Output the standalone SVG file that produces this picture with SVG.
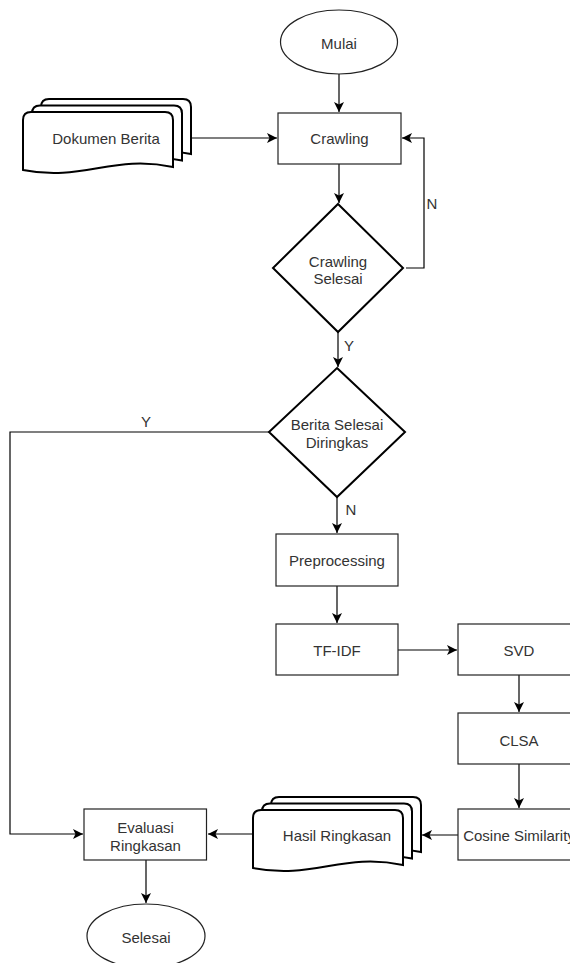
<svg xmlns="http://www.w3.org/2000/svg" width="570" height="963" viewBox="0 0 570 963">
<style>
text{font-family:"Liberation Sans",Arial,sans-serif;font-size:15px;fill:#333;text-anchor:middle;dominant-baseline:central}
.rect{fill:#fff;stroke:#222;stroke-width:1.2}
.ell{fill:#fff;stroke:#222;stroke-width:1.2}
.dia{fill:#fff;stroke:#000;stroke-width:2}
.page{fill:#fff;stroke:#000;stroke-width:2}
.edge{fill:none;stroke:#000;stroke-width:1.2}
</style>
<defs>
<marker id="arr" markerUnits="userSpaceOnUse" markerWidth="12" markerHeight="12" refX="10" refY="5.5" orient="auto">
<path d="M0,0.5 L10,5.5 L0,10.5 L2.5,5.5 Z" fill="#000"/>
</marker>
<path id="pg" d="M0,58 L0,8 Q0,0 8,0 L142,0 Q150,0 150,8 L150,55 C90,42 60,70 0,58 Z"/>
</defs>
<rect width="570" height="963" fill="#fff"/>
<g id="connectors">
<line class="edge" x1="339" y1="74" x2="339" y2="112" marker-end="url(#arr)"/>
<line class="edge" x1="191" y1="138" x2="277" y2="138" marker-end="url(#arr)"/>
<line class="edge" x1="339" y1="164" x2="339" y2="203" marker-end="url(#arr)"/>
<polyline class="edge" points="406,268 424,268 424,138 402,138" marker-end="url(#arr)"/>
<line class="edge" x1="338" y1="332" x2="338" y2="367" marker-end="url(#arr)"/>
<polyline class="edge" points="269,432 10,432 10,834 83,834" marker-end="url(#arr)"/>
<line class="edge" x1="337" y1="497" x2="337" y2="533" marker-end="url(#arr)"/>
<line class="edge" x1="337" y1="586" x2="337" y2="623" marker-end="url(#arr)"/>
<line class="edge" x1="398" y1="650" x2="457" y2="650" marker-end="url(#arr)"/>
<line class="edge" x1="519" y1="675" x2="519" y2="712" marker-end="url(#arr)"/>
<line class="edge" x1="519" y1="764" x2="519" y2="808" marker-end="url(#arr)"/>
<line class="edge" x1="458" y1="835" x2="422" y2="835" marker-end="url(#arr)"/>
<line class="edge" x1="253" y1="834" x2="208" y2="834" marker-end="url(#arr)"/>
<line class="edge" x1="146" y1="860" x2="146" y2="903" marker-end="url(#arr)"/>
<text x="432" y="203">N</text>
<text x="349" y="345">Y</text>
<text x="146" y="421">Y</text>
<text x="351" y="509">N</text>
</g>
<g id="mulai">
<ellipse class="ell" cx="339" cy="42" rx="58.5" ry="32"/>
<text x="339" y="43">Mulai</text>
</g>
<g id="dokumen-berita">
<use href="#pg" class="page" transform="translate(41,99)"/>
<use href="#pg" class="page" transform="translate(32,105.5)"/>
<use href="#pg" class="page" transform="translate(23,112)"/>
<text x="106" y="138">Dokumen Berita</text>
</g>
<g id="crawling">
<rect class="rect" x="278" y="113" width="123" height="51"/>
<text x="339.5" y="138">Crawling</text>
</g>
<g id="crawling-selesai">
<polygon class="dia" points="338,204 403,268 338,332 273,268"/>
<text x="338" y="261">Crawling</text>
<text x="338" y="278">Selesai</text>
</g>
<g id="berita-selesai">
<polygon class="dia" points="337,368 405,432 337,497 269,432"/>
<text x="337" y="424">Berita Selesai</text>
<text x="337" y="442">Diringkas</text>
</g>
<g id="preprocessing">
<rect class="rect" x="276" y="534" width="122" height="52"/>
<text x="337" y="560">Preprocessing</text>
</g>
<g id="tfidf">
<rect class="rect" x="276" y="624" width="122" height="51"/>
<text x="337" y="650">TF-IDF</text>
</g>
<g id="svd">
<rect class="rect" x="458" y="624" width="122" height="51"/>
<text x="519" y="650">SVD</text>
</g>
<g id="clsa">
<rect class="rect" x="458" y="713" width="122" height="51"/>
<text x="519" y="740">CLSA</text>
</g>
<g id="cosine">
<rect class="rect" x="458" y="809" width="122" height="51"/>
<text x="519" y="835">Cosine Similarity</text>
</g>
<g id="hasil-ringkasan">
<use href="#pg" class="page" transform="translate(271,797)"/>
<use href="#pg" class="page" transform="translate(262,803.5)"/>
<use href="#pg" class="page" transform="translate(253,810)"/>
<text x="337" y="835">Hasil Ringkasan</text>
</g>
<g id="evaluasi">
<rect class="rect" x="84" y="809" width="122.5" height="51"/>
<text x="145.5" y="827">Evaluasi</text>
<text x="145.5" y="845">Ringkasan</text>
</g>
<g id="selesai">
<ellipse class="ell" cx="146" cy="936" rx="59" ry="32"/>
<text x="146" y="937">Selesai</text>
</g>
</svg>
